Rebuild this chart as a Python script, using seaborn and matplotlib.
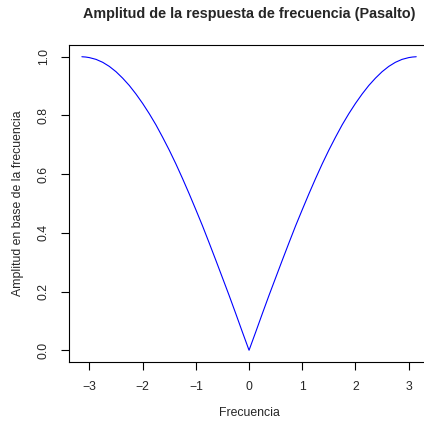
import matplotlib
matplotlib.use("Agg")
import matplotlib.pyplot as plt
import seaborn as sns
import pandas as pd

# Values (amplitude response of a high-pass filter)
frecuencia = [-3.1416, -3.07, -3.0, -2.875, -2.75, -2.625, -2.5, -2.375, -2.25, -2.125,
              -2.0, -1.875, -1.75, -1.625, -1.5, -1.375, -1.25, -1.125, -1.0, -0.875,
              -0.75, -0.625, -0.5, -0.375, -0.25, -0.125, 0.0,
              0.125, 0.25, 0.375, 0.5, 0.625, 0.75, 0.875, 1.0, 1.125, 1.25, 1.375,
              1.5, 1.625, 1.75, 1.875, 2.0, 2.125, 2.25, 2.375, 2.5, 2.625, 2.75,
              2.875, 3.0, 3.07, 3.1416]
amplitud = [1.000, 0.999, 0.997, 0.991, 0.981, 0.967, 0.949, 0.927, 0.902, 0.873,
            0.841, 0.806, 0.768, 0.726, 0.682, 0.635, 0.585, 0.533, 0.479, 0.424,
            0.366, 0.307, 0.247, 0.187, 0.125, 0.062, 0.000,
            0.062, 0.125, 0.187, 0.247, 0.307, 0.366, 0.424, 0.479, 0.533, 0.585, 0.635,
            0.682, 0.726, 0.768, 0.806, 0.841, 0.873, 0.902, 0.927, 0.949, 0.967, 0.981,
            0.991, 0.997, 0.999, 1.000]
xticks = [-3, -2, -1, 0, 1, 2, 3]
yticks = [0.0, 0.2, 0.4, 0.6, 0.8, 1.0]
ytick_labels = ["0.0", "0.2", "0.4", "0.6", "0.8", "1.0"]

titulo = "Amplitud de la respuesta de frecuencia (Pasalto)"
xlab = "Frecuencia"
ylab = "Amplitud en base de la frecuencia"

sns.set_style("white")
plt.rcParams["font.family"] = ["Liberation Sans", "DejaVu Sans"]

df = pd.DataFrame({"Frecuencia": frecuencia, "Amplitud": amplitud})

W, H = 424, 421
fig = plt.figure(figsize=(W / 100, H / 100), dpi=100)
left, right, top, bottom = 68.5, 429.6, 45.0, 362.0
ax = fig.add_axes([left / W, 1 - bottom / H, (right - left) / W, (bottom - top) / H])

sns.lineplot(data=df, x="Frecuencia", y="Amplitud", ax=ax, color="#0000ff",
             linewidth=0.8, sort=False, estimator=None)

ax.set_xlim(-3.393, 3.393)
ax.set_ylim(-0.04, 1.04)
ax.set_xticks(xticks)
ax.set_xticklabels([str(t).replace("-", "\u2212") for t in xticks])
ax.set_yticks(yticks)
ax.set_yticklabels(ytick_labels, rotation=90, va="center")

for s in ax.spines.values():
    s.set_visible(True)
    s.set_color("black")
    s.set_linewidth(0.8)

ax.tick_params(axis="both", which="major", direction="out", length=5.5, width=0.8,
               color="black", labelsize=8.8, pad=8, left=True, bottom=True)

ax.set_xlabel(xlab, fontsize=8.8)
ax.set_ylabel(ylab, fontsize=8.8)
ax.xaxis.set_label_coords(0.5, (bottom - 413) / (bottom - top))
ax.yaxis.set_label_coords((18 - left) / (right - left), 0.5)
ax.xaxis.label.set_va("center")
ax.yaxis.label.set_va("center")

ax.set_title(titulo, fontsize=10.4, fontweight="bold",
             y=1 + (top - 14) / (bottom - top), va="center", pad=0)

fig.savefig("out.png", dpi=100)
